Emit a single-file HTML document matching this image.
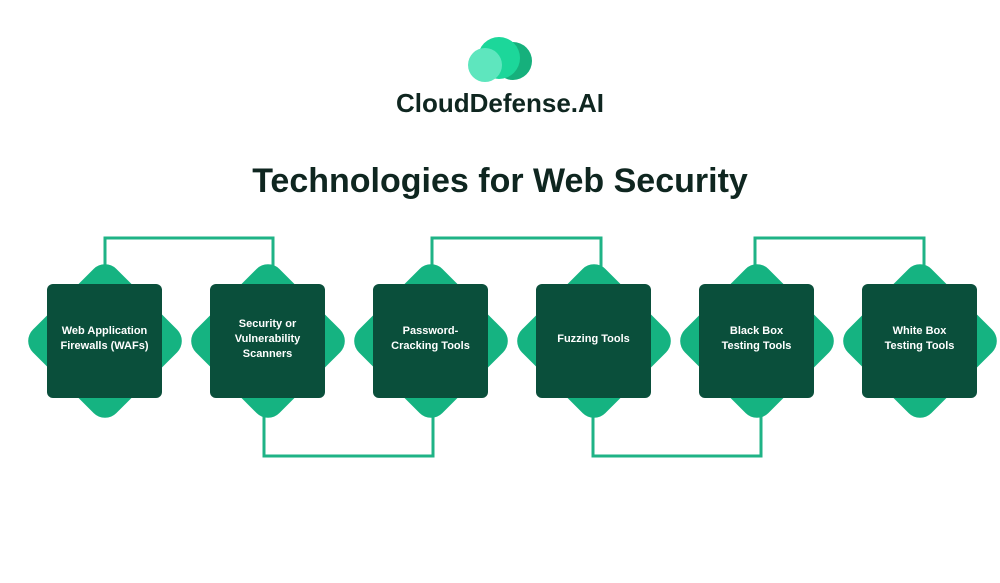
<!DOCTYPE html>
<html><head><style>
body{margin:0;width:1000px;height:583px;background:#fff;position:relative;overflow:hidden;font-family:"Liberation Sans",sans-serif}
.t{position:absolute;left:0;width:1000px;text-align:center;font-weight:bold;color:#0f2620}
.d{position:absolute;width:118px;height:118px;background:#15b381;border-radius:16px;transform:rotate(45deg)}
.b{position:absolute;width:115px;height:114px;top:284px;background:#0a4f3b;border-radius:6px;color:#fff;font-size:11px;font-weight:bold;display:flex;align-items:center;justify-content:center;text-align:center;line-height:15px}
.b span{display:block;width:104px;margin-top:-4px}
</style></head><body>
<svg width="1000" height="583" style="position:absolute;left:0;top:0">
<circle cx="513" cy="61" r="19" fill="#16b07c"/>
<circle cx="499" cy="58" r="21" fill="#1cd79a"/>
<circle cx="485" cy="65" r="17" fill="#5ee6be"/>
<g fill="none" stroke="#1fb386" stroke-width="3">
<polyline points="105,270 105,238 273,238 273,270"/>
<polyline points="432,270 432,238 601,238 601,270"/>
<polyline points="755,270 755,238 924,238 924,270"/>
<polyline points="264,412 264,456 433,456 433,412"/>
<polyline points="593,412 593,456 761,456 761,412"/>
</g>
</svg>
<div class="t" style="top:88px;font-size:26px">CloudDefense.AI</div>
<div class="t" style="top:162px;font-size:34px">Technologies for Web Security</div>
<div class="d" style="left:45.5px;top:282px"></div>
<div class="d" style="left:208.5px;top:282px"></div>
<div class="d" style="left:371.5px;top:282px"></div>
<div class="d" style="left:534.5px;top:282px"></div>
<div class="d" style="left:697.5px;top:282px"></div>
<div class="d" style="left:860.5px;top:282px"></div>
<div class="b" style="left:47px"><span>Web Application Firewalls (WAFs)</span></div>
<div class="b" style="left:210px"><span>Security or Vulnerability Scanners</span></div>
<div class="b" style="left:373px"><span>Password-<br>Cracking Tools</span></div>
<div class="b" style="left:536px"><span>Fuzzing Tools</span></div>
<div class="b" style="left:699px"><span>Black Box<br>Testing Tools</span></div>
<div class="b" style="left:862px"><span>White Box<br>Testing Tools</span></div>
</body></html>
